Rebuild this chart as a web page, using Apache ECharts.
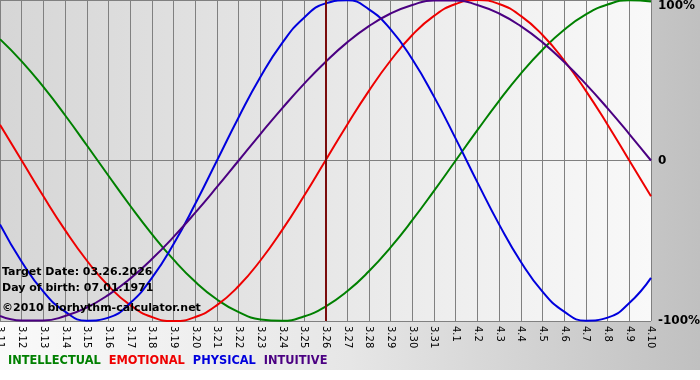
<!DOCTYPE html>
<html>
<head>
<meta charset="utf-8">
<script src="https://cdn.jsdelivr.net/npm/echarts@6/dist/echarts.min.js"></script>
<style>
  html, body { margin: 0; padding: 0; background: #fff; }
  #main { width: 700px; height: 380px; }
</style>
</head>
<body>
<div id="main"></div>
<script>
// days shown on the x axis
var days = ['3.11', '3.12', '3.13', '3.14', '3.15', '3.16', '3.17', '3.18', '3.19', '3.20',
  '3.21', '3.22', '3.23', '3.24', '3.25', '3.26', '3.27', '3.28', '3.29', '3.30', '3.31',
  '4.1', '4.2', '4.3', '4.4', '4.5', '4.6', '4.7', '4.8', '4.9', '4.10'];

// cycle values, -1 .. 1
var intellectual = [0.756, 0.618, 0.458, 0.282, 0.095, -0.095, -0.282, -0.458, -0.618, -0.756,
  -0.866, -0.945, -0.990, -0.999, -0.972, -0.910, -0.815, -0.690, -0.541, -0.372, -0.189,
  0.000, 0.189, 0.372, 0.541, 0.690, 0.815, 0.910, 0.972, 0.999, 0.990];
var emotional = [0.223, 0.000, -0.223, -0.434, -0.623, -0.782, -0.901, -0.975, -1.000, -0.975,
  -0.901, -0.782, -0.623, -0.434, -0.223, 0.000, 0.223, 0.434, 0.623, 0.782, 0.901,
  0.975, 1.000, 0.975, 0.901, 0.782, 0.623, 0.434, 0.223, 0.000, -0.223];
var physical = [-0.398, -0.631, -0.817, -0.942, -0.998, -0.979, -0.888, -0.731, -0.520, -0.270,
  0.000, 0.270, 0.520, 0.731, 0.888, 0.979, 0.998, 0.942, 0.817, 0.631, 0.398,
  0.136, -0.136, -0.398, -0.631, -0.817, -0.942, -0.998, -0.979, -0.888, -0.731];
var intuitive = [-0.969, -0.997, -0.997, -0.969, -0.916, -0.837, -0.736, -0.614, -0.476, -0.325,
  -0.165, 0.000, 0.165, 0.325, 0.476, 0.614, 0.736, 0.837, 0.916, 0.969, 0.997,
  0.997, 0.969, 0.916, 0.837, 0.736, 0.614, 0.476, 0.325, 0.165, 0.000];

var targetDay = '3.26';
var targetText = 'Target Date: 03.26.2026';
var birthText = 'Day of birth: 07.01.1971';
var creditText = '\u00a92010 biorhythm-calculator.net';

var font = 'DejaVu Sans, Verdana, sans-serif';
var colors = { INTELLECTUAL: '#008000', EMOTIONAL: '#ee0000', PHYSICAL: '#0000dd', INTUITIVE: '#4b0082' };

function line(name, values) {
  return {
    name: name,
    type: 'line',
    data: values,
    smooth: 0.5,
    symbol: 'none',
    lineStyle: { width: 2, color: colors[name] },
    itemStyle: { color: colors[name] }
  };
}

var series = [
  line('INTELLECTUAL', intellectual),
  line('EMOTIONAL', emotional),
  line('PHYSICAL', physical),
  line('INTUITIVE', intuitive)
];
// today's marker
series[0].markLine = {
  silent: true,
  symbol: 'none',
  label: { show: false },
  lineStyle: { color: '#7a0c0c', width: 2, type: 'solid' },
  data: [{ xAxis: targetDay }]
};

function info(text, top) {
  return {
    type: 'text', left: 2, top: top, z: 100,
    style: { text: text, font: 'bold 11px ' + font, fill: '#000' }
  };
}

var chart = echarts.init(document.getElementById('main'));
chart.setOption({
  animation: false,
  textStyle: { fontFamily: font },
  graphic: [
    {
      type: 'rect', z: -10, silent: true,
      shape: { x: 0, y: 0, width: 700, height: 370 },
      style: {
        fill: new echarts.graphic.LinearGradient(0, 0, 1, 0, [
          { offset: 0, color: '#fafafa' },
          { offset: 0.5, color: '#e6e6e6' },
          { offset: 1, color: '#c0c0c0' }
        ])
      }
    },
    info(targetText, 267),
    info(birthText, 283),
    info(creditText, 303)
  ],
  legend: {
    left: 3,
    top: 354,
    padding: 0,
    icon: 'none',
    itemWidth: 0,
    itemGap: 3,
    textStyle: { fontSize: 11.4, fontWeight: 'bold', fontFamily: font },
    data: series.map(function (s) {
      return { name: s.name, textStyle: { color: colors[s.name] } };
    })
  },
  grid: {
    left: 0, right: 49, top: 0, bottom: 59,
    outerBoundsMode: 'none',
    containLabel: false,
    show: true,
    borderWidth: 0,
    backgroundColor: new echarts.graphic.LinearGradient(0, 0, 1, 0, [
      { offset: 0, color: '#d6d6d6' },
      { offset: 1, color: '#f9f9f9' }
    ])
  },
  xAxis: {
    type: 'category',
    data: days,
    boundaryGap: false,
    axisLine: { lineStyle: { color: '#808080', width: 1 } },
    axisTick: { show: true, length: 3, interval: 0, lineStyle: { color: '#808080' } },
    axisLabel: { interval: 0, rotate: -90, margin: 5, fontSize: 10, color: '#000', fontFamily: font },
    splitLine: { show: true, interval: 0, lineStyle: { color: '#808080', width: 1 } }
  },
  yAxis: {
    type: 'value',
    position: 'right',
    min: -1, max: 1, interval: 1,
    axisLine: { show: false },
    axisTick: { show: false },
    axisLabel: {
      margin: 7,
      fontSize: 12,
      fontWeight: 'bold',
      color: '#000',
      fontFamily: font,
      verticalAlignMaxLabel: 'top',
      formatter: function (v) { return v === 0 ? '0' : Math.round(v * 100) + '%'; }
    },
    splitLine: { show: true, lineStyle: { color: '#808080', width: 1 } }
  },
  series: series
});
</script>
</body>
</html>
